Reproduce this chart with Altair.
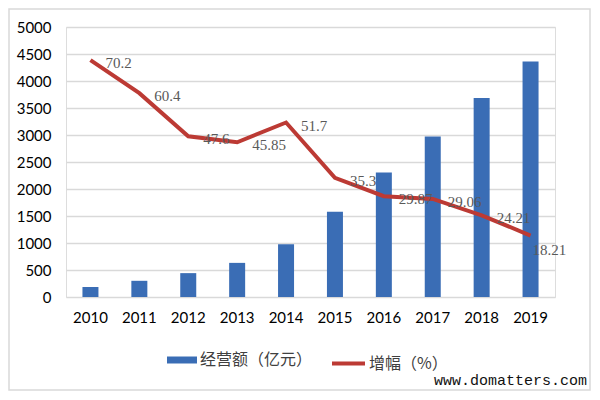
import altair as alt
import pandas as pd

# ---- data ----
years = ["2010", "2011", "2012", "2013", "2014", "2015", "2016", "2017", "2018", "2019"]
revenue = [185, 300, 442, 632, 977, 1578, 2304, 2973, 3686, 4361]          # 经营额（亿元）
growth = [70.2, 60.4, 47.6, 45.85, 51.7, 35.3, 29.87, 29.06, 24.21, 18.21]  # 增幅（%）
series_names = ["经营额（亿元）", "增幅（%）"]
left_ticks = [0, 500, 1000, 1500, 2000, 2500, 3000, 3500, 4000, 4500, 5000]
right_ticks = [0, 10, 20, 30, 40, 50, 60, 70, 80]
watermark = "www.domatters.com"

df = pd.DataFrame({
    "year": years,
    "revenue": revenue,
    "growth": growth,
    "s1": [series_names[0]] * len(years),
    "s2": [series_names[1]] * len(years),
})

BLUE = "#3A6DB5"
RED = "#BC3A34"
GRID = "#D9D9D9"
NUM_FONT = "Lato"
CJK_FONT = "Noto Sans CJK SC"

x_enc = alt.X(
    "year:N",
    sort=years,
    title=None,
    axis=alt.Axis(labelAngle=0, domain=False, ticks=False, tickSize=0,
                  labelFont=NUM_FONT, labelFontSize=15, labelColor="#000000",
                  labelPadding=13, grid=False),
)

bars = alt.Chart(df).mark_bar(size=16).encode(
    x=x_enc,
    y=alt.Y("revenue:Q", title=None,
            scale=alt.Scale(domain=[0, 5000], nice=False),
            axis=alt.Axis(values=left_ticks, format="d", domain=False, ticks=False, tickSize=0,
                          grid=True, gridColor=GRID, gridWidth=1.3,
                          labelFont=NUM_FONT, labelFontSize=15, labelColor="#000000",
                          labelPadding=15)),
    fill=alt.Fill("s1:N",
                  scale=alt.Scale(domain=[series_names[0]], range=[BLUE]),
                  legend=alt.Legend(orient="none", legendX=101, legendY=318, title=None,
                                    padding=0, symbolType="M-1,-0.233H1V0.233H-1Z",
                                    symbolSize=900, symbolStrokeWidth=0,
                                    labelFont=CJK_FONT, labelFontSize=16,
                                    labelColor="#404040", labelOffset=3)),
)

y_right = alt.Y("growth:Q", title=None,
                scale=alt.Scale(domain=[0, 80], nice=False),
                axis=alt.Axis(orient="right", values=right_ticks, format="d", domain=False,
                              ticks=False, tickSize=0, grid=False,
                              labelFont=NUM_FONT, labelFontSize=15, labelColor="#000000",
                              labelPadding=14))

line = alt.Chart(df).mark_line(strokeWidth=4, strokeJoin="miter").encode(
    x=alt.X("year:N", sort=years),
    y=y_right,
    stroke=alt.Stroke("s2:N",
                      scale=alt.Scale(domain=[series_names[1]], range=[RED]),
                      legend=alt.Legend(orient="none", legendX=264, legendY=318, title=None,
                                        padding=0, symbolType="stroke", symbolSize=1089,
                                        symbolStrokeWidth=4,
                                        labelFont=CJK_FONT, labelFontSize=16,
                                        labelColor="#404040", labelOffset=2)),
)

y_lab = alt.Y("growth:Q", scale=alt.Scale(domain=[0, 80], nice=False), axis=None)

labels_main = alt.Chart(df).transform_filter(
    alt.datum.year != years[-1]
).mark_text(align="left", baseline="middle", dx=15, dy=3,
            font="Liberation Serif", fontSize=15, color="#595959").encode(
    x=alt.X("year:N", sort=years),
    y=y_lab,
    text=alt.Text("growth:Q"),
)

labels_last = alt.Chart(df).transform_filter(
    alt.datum.year == years[-1]
).mark_text(align="left", baseline="middle", dx=2, dy=14,
            font="Liberation Serif", fontSize=15, color="#595959").encode(
    x=alt.X("year:N", sort=years),
    y=y_lab,
    text=alt.Text("growth:Q"),
)

frame_df = pd.DataFrame({"k": [0]})
frame = alt.Chart(frame_df).mark_rect(fillOpacity=0, stroke=GRID, strokeWidth=1.5).encode(
    x=alt.value(-57), x2=alt.value(524), y=alt.value(-18), y2=alt.value(363)
)

wm = alt.Chart(pd.DataFrame({"t": [watermark]})).mark_text(
    align="left", baseline="alphabetic", font="Liberation Mono", fontSize=15, color="#111111"
).encode(x=alt.value(368), y=alt.value(358), text="t:N")

right_layer = alt.layer(line, labels_main, labels_last)

chart = alt.layer(
    frame, bars, right_layer, wm
).resolve_scale(
    y="independent"
).properties(
    width=489,
    height=270,
    autosize=alt.AutoSizeParams(type="none"),
    padding={"left": 58, "top": 19, "right": 37, "bottom": 95},
).configure_view(stroke=None).configure(background="white")

chart.save("out.html", embed_options={"renderer": "svg", "actions": False})
